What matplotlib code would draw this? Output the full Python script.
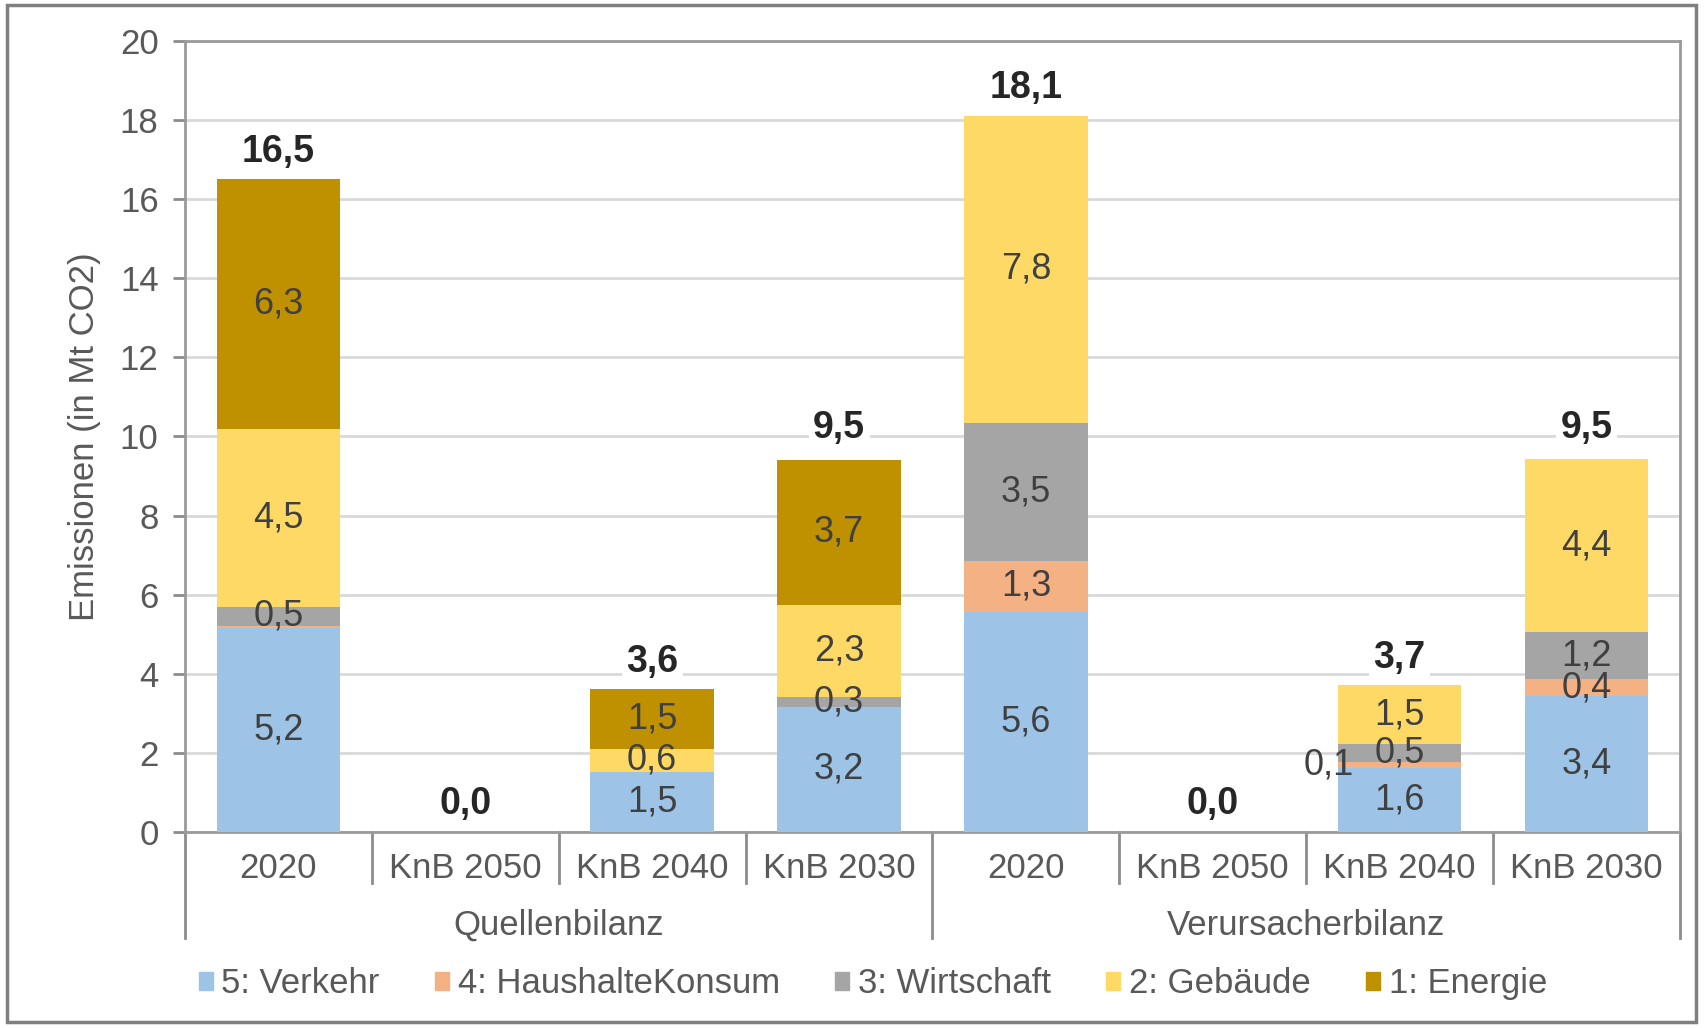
import numpy as np
import matplotlib
matplotlib.use("Agg")
import matplotlib.pyplot as plt
from matplotlib.patches import Patch, Rectangle

plt.rcParams["font.family"] = ["Liberation Sans", "DejaVu Sans"]

# data
groups = ["Quellenbilanz", "Verursacherbilanz"]
scenarios = ["2020", "KnB 2050", "KnB 2040", "KnB 2030"]
categories = scenarios * len(groups)

verkehr = [5.15, 0.0, 1.51, 3.16, 5.57, 0.0, 1.62, 3.44]
haushalte = [0.05, 0.0, 0.0, 0.0, 1.28, 0.0, 0.14, 0.42]
wirtschaft = [0.5, 0.0, 0.0, 0.26, 3.5, 0.0, 0.47, 1.2]
gebaeude = [4.5, 0.0, 0.6, 2.33, 7.75, 0.0, 1.48, 4.36]
energie = [6.3, 0.0, 1.5, 3.66, 0.0, 0.0, 0.0, 0.0]
totals = [16.5, 0.0, 3.6, 9.5, 18.1, 0.0, 3.7, 9.5]

series_names = ["5: Verkehr", "4: HaushalteKonsum", "3: Wirtschaft", "2: Gebäude", "1: Energie"]
series_values = [verkehr, haushalte, wirtschaft, gebaeude, energie]
series_colors = ["#9DC3E6", "#F4B183", "#A5A5A5", "#FFD966", "#BF9000"]

txt_gray = "#595959"
seg_col = "#404040"
fs = 25

fig = plt.figure(figsize=(17.05, 10.28), dpi=100)
ax = fig.add_axes([0.1085, 0.1907, 0.8768, 0.7694])

x = np.arange(len(categories))
bottom = np.zeros(len(categories))
for name, vals, col in zip(series_names, series_values, series_colors):
    vals = np.array(vals)
    ax.bar(x, vals, 0.66, bottom=bottom, color=col, zorder=3)
    for xi, v, b in zip(x, vals, bottom):
        if round(v, 1) < 0.1:
            continue
        lab = f"{v:.1f}".replace(".", ",")
        # very thin segments get their label left of the bar
        xl = xi - 0.38 if v < 0.2 else xi
        ax.text(xl, b + v / 2, lab, ha="center", va="center",
                fontsize=26, color=seg_col, zorder=5)
    bottom += vals

# totals above the bars
for xi, t in zip(x, totals):
    ax.annotate(f"{t:.1f}".replace(".", ","), (xi, t), xytext=(0, 20),
                textcoords="offset points", ha="center", va="center",
                fontsize=27, fontweight="bold", color="#262626", zorder=2.5,
                bbox=dict(boxstyle="square,pad=0.12", fc="white", ec="none"))

ax.set_xlim(-0.5, len(categories) - 0.5)
ax.set_ylim(0, 20)
ax.set_yticks(range(0, 21, 2))
ax.tick_params(axis="y", labelsize=fs, labelcolor=txt_gray, color="#8c8c8c",
               length=9, width=2, pad=10)
ax.set_xticks([])
ax.yaxis.grid(True, color="#d9d9d9", lw=2, zorder=0)
ax.set_axisbelow(True)
for sp in ax.spines.values():
    sp.set_color("#9a9a9a")
    sp.set_linewidth(2)

ax.set_ylabel("Emissionen (in Mt CO2)", fontsize=fs, color=txt_gray)
ax.yaxis.set_label_coords(-0.056, 0.5)

# two-level category axis
tr = ax.get_xaxis_transform()
for xi, c in zip(x, categories):
    ax.text(xi, -0.046, c, transform=tr, ha="center", va="center",
            fontsize=fs, color=txt_gray)
for k in range(1, len(categories)):
    if k % len(scenarios) == 0:
        continue
    ax.plot([k - 0.5, k - 0.5], [0, -0.0645], transform=tr, color="#8c8c8c",
            lw=2, clip_on=False)
for g in range(len(groups) + 1):
    xs = g * len(scenarios) - 0.5
    ax.plot([xs, xs], [0, -0.134], transform=tr, color="#8c8c8c",
            lw=2, clip_on=False)
for g, name in enumerate(groups):
    xc = g * len(scenarios) + (len(scenarios) - 1) / 2
    ax.text(xc, -0.118, name, transform=tr, ha="center", va="center",
            fontsize=fs, color=txt_gray)

handles = [Patch(color=c, label=n) for n, c in zip(series_names, series_colors)]
leg = fig.legend(handles=handles, loc="center", bbox_to_anchor=(0.512, 0.043),
                 ncol=5, frameon=False, fontsize=fs, handlelength=0.4,
                 handleheight=0.4, handletextpad=0.25, columnspacing=1.6)
for t in leg.get_texts():
    t.set_color(txt_gray)

fig.patches.append(Rectangle((0.0041, 0.0058), 0.9906, 0.9893, transform=fig.transFigure,
                             fill=False, edgecolor="#7f7f7f", lw=2.5))

plt.savefig("out.png", dpi=100)
